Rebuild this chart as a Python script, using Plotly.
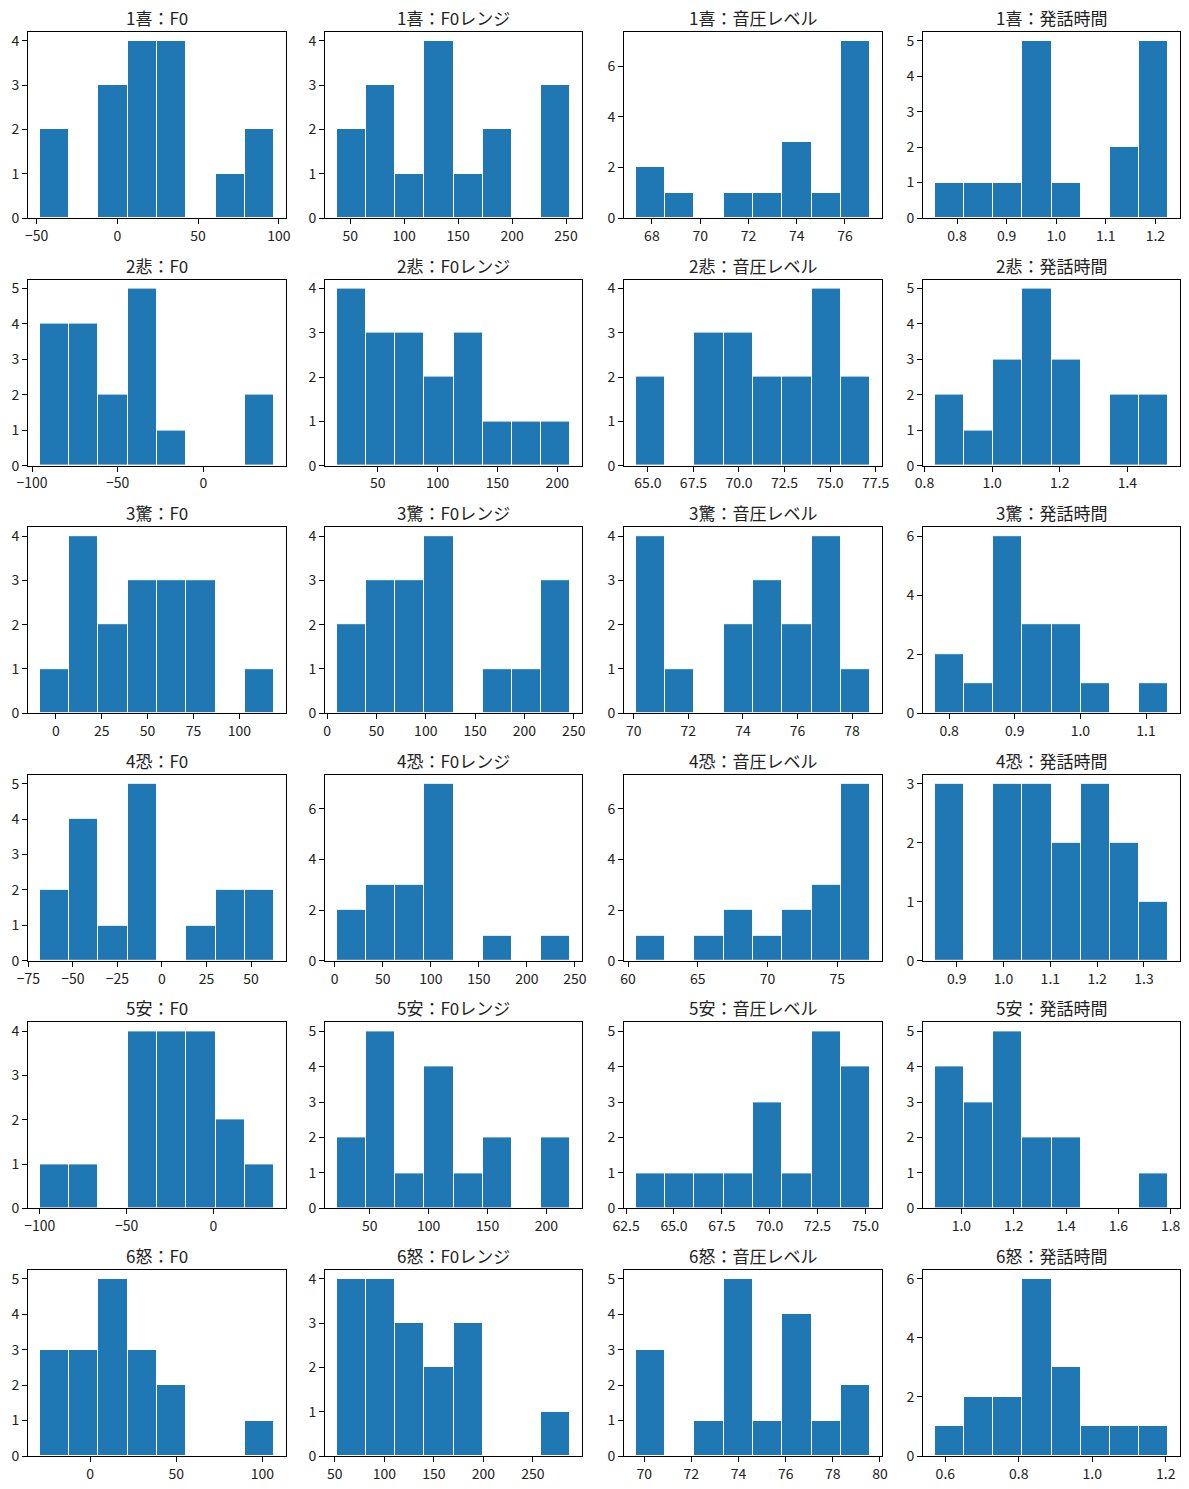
import plotly.graph_objects as go

emotions = ["1喜", "2悲", "3驚", "4恐", "5安", "6怒"]
features = ["F0", "F0レンジ", "音圧レベル", "発話時間"]

# F0
f0_lo = [-48.1, -95.5, -8.75, -68.6, -100.0, -29.3]
f0_hi = [97.2, 41.3, 119.0, 63.0, 35.0, 106.9]
f0_counts = [
    [2, 0, 3, 4, 4, 0, 1, 2],
    [4, 4, 2, 5, 1, 0, 0, 2],
    [1, 4, 2, 3, 3, 3, 0, 1],
    [2, 4, 1, 5, 0, 1, 2, 2],
    [1, 1, 0, 4, 4, 4, 2, 1],
    [3, 3, 5, 3, 2, 0, 0, 1],
]
f0_xticks = [
    ["-50", "0", "50", "100"],
    ["-100", "-50", "0"],
    ["0", "25", "50", "75", "100"],
    ["-75", "-50", "-25", "0", "25", "50"],
    ["-100", "-50", "0"],
    ["0", "50", "100"],
]

# F0 range
rng_lo = [37.5, 15.6, 9.7, 2.0, 21.8, 51.9]
rng_hi = [254.0, 210.9, 246.5, 245.2, 220.4, 287.7]
rng_counts = [
    [2, 3, 1, 4, 1, 2, 0, 3],
    [4, 3, 3, 2, 3, 1, 1, 1],
    [2, 3, 3, 4, 0, 1, 1, 3],
    [2, 3, 3, 7, 0, 1, 0, 1],
    [2, 5, 1, 4, 1, 2, 0, 2],
    [4, 4, 3, 2, 3, 0, 0, 1],
]
rng_xticks = [
    ["50", "100", "150", "200", "250"],
    ["50", "100", "150", "200"],
    ["0", "50", "100", "150", "200", "250"],
    ["0", "50", "100", "150", "200", "250"],
    ["50", "100", "150", "200"],
    ["50", "100", "150", "200", "250"],
]

# Sound pressure level
lvl_lo = [67.33, 64.33, 70.07, 60.55, 63.0, 69.64]
lvl_hi = [77.05, 77.21, 78.67, 77.36, 75.26, 79.59]
lvl_counts = [
    [2, 1, 0, 1, 1, 3, 1, 7],
    [2, 0, 3, 3, 2, 2, 4, 2],
    [4, 1, 0, 2, 3, 2, 4, 1],
    [1, 0, 1, 2, 1, 2, 3, 7],
    [1, 1, 1, 1, 3, 1, 5, 4],
    [3, 0, 1, 5, 1, 4, 1, 2],
]
lvl_xticks = [
    ["68", "70", "72", "74", "76"],
    ["65.0", "67.5", "70.0", "72.5", "75.0", "77.5"],
    ["70", "72", "74", "76", "78"],
    ["60", "65", "70", "75"],
    ["62.5", "65.0", "67.5", "70.0", "72.5", "75.0"],
    ["70", "72", "74", "76", "78", "80"],
]

# Utterance duration
dur_lo = [0.755, 0.830, 0.778, 0.853, 0.898, 0.571]
dur_hi = [1.226, 1.521, 1.134, 1.352, 1.791, 1.207]
dur_counts = [
    [1, 1, 1, 5, 1, 0, 2, 5],
    [2, 1, 3, 5, 3, 0, 2, 2],
    [2, 1, 6, 3, 3, 1, 0, 1],
    [3, 0, 3, 3, 2, 3, 2, 1],
    [4, 3, 5, 2, 2, 0, 0, 1],
    [1, 2, 2, 6, 3, 1, 1, 1],
]
dur_xticks = [
    ["0.8", "0.9", "1.0", "1.1", "1.2"],
    ["0.8", "1.0", "1.2", "1.4"],
    ["0.8", "0.9", "1.0", "1.1"],
    ["0.9", "1.0", "1.1", "1.2", "1.3"],
    ["1.0", "1.2", "1.4", "1.6", "1.8"],
    ["0.6", "0.8", "1.0", "1.2"],
]

feature_data = [
    (f0_lo, f0_hi, f0_counts, f0_xticks),
    (rng_lo, rng_hi, rng_counts, rng_xticks),
    (lvl_lo, lvl_hi, lvl_counts, lvl_xticks),
    (dur_lo, dur_hi, dur_counts, dur_xticks),
]

W, H = 1189, 1489
col_px = [(28, 286), (325, 582), (624, 882), (923, 1180)]
row_top = [32 + 247.6 * i for i in range(6)]
row_h = 186
FONT = "Noto Sans CJK JP"
BAR = "#1f77b4"

fig = go.Figure()
annotations = []
layout_axes = {}

for r, emo in enumerate(emotions):
    for c, feat in enumerate(features):
        idx = r * 4 + c + 1
        lo_l, hi_l, cnt_l, xt_l = feature_data[c]
        lo, hi, counts, xt = lo_l[r], hi_l[r], cnt_l[r], xt_l[r]
        nb = len(counts)
        w = (hi - lo) / nb
        centers = [lo + w * (i + 0.5) for i in range(nb)]
        xs = "x" if idx == 1 else f"x{idx}"
        ys = "y" if idx == 1 else f"y{idx}"
        fig.add_trace(go.Bar(
            x=centers, y=counts, width=[w] * nb,
            marker=dict(color=BAR, line=dict(color="white", width=1)),
            xaxis=xs, yaxis=ys, showlegend=False, hoverinfo="x+y",
        ))
        x0, x1 = col_px[c]
        y0 = row_top[r]
        y1 = y0 + row_h
        xdom = [x0 / W, x1 / W]
        ydom = [1 - y1 / H, 1 - y0 / H]
        span = hi - lo
        mx = max(counts)
        step = 1 if mx <= 5 else 2
        yt = list(range(0, mx + 1, step))
        common = dict(
            showline=True, mirror=True, linecolor="black", linewidth=1,
            ticks="outside", ticklen=5, tickwidth=1, tickcolor="black",
            showgrid=False, zeroline=False, automargin=False,
            tickfont=dict(family=FONT, size=14, color="#222"),
        )
        xk = "xaxis" if idx == 1 else f"xaxis{idx}"
        yk = "yaxis" if idx == 1 else f"yaxis{idx}"
        layout_axes[xk] = dict(
            domain=xdom, anchor=ys, range=[lo - 0.05 * span, hi + 0.05 * span],
            tickmode="array", tickvals=[float(s) for s in xt],
            ticktext=[s.replace("-", "\u2212") for s in xt], **common,
        )
        layout_axes[yk] = dict(
            domain=ydom, anchor=xs, range=[0, mx * 1.05],
            tickmode="array", tickvals=yt, ticktext=[str(v) for v in yt],
            **common,
        )
        annotations.append(dict(
            text=f"{emo}：{feat}", xref="paper", yref="paper",
            x=(xdom[0] + xdom[1]) / 2, y=ydom[1], xanchor="center",
            yanchor="bottom", yshift=0, showarrow=False,
            font=dict(family=FONT, size=17, color="#222"),
        ))

fig.update_layout(
    width=W, height=H,
    margin=dict(l=0, r=0, t=0, b=0, pad=0, autoexpand=False),
    paper_bgcolor="white", plot_bgcolor="white",
    annotations=annotations, bargap=0,
    **layout_axes,
)

fig.write_html(
    "out.html",
    config={"displayModeBar": False},
    post_script="document.body.style.margin='0';document.body.style.overflow='hidden';",
)
